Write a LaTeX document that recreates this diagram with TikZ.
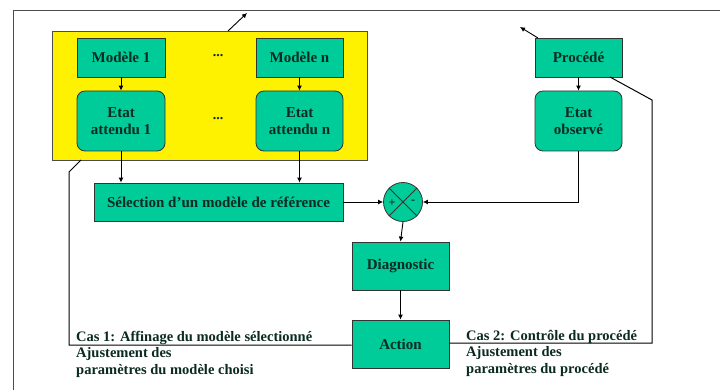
\documentclass[tikz,border=0pt]{standalone}
\usepackage{fontspec}
\setmainfont{Liberation Serif}
\usetikzlibrary{arrows.meta}
\definecolor{boxgreen}{HTML}{00CC99}
\definecolor{txtdark}{HTML}{0A2A22}
\begin{document}
\begin{tikzpicture}[x=1pt,y=-1pt,
  box/.style={draw=black!80,line width=0.8pt,fill=boxgreen,inner sep=0pt,font=\bfseries\fontsize{15}{17}\selectfont,text=txtdark,align=center},
  rbox/.style={box,rounded corners=8pt},
  arr/.style={-{Latex[length=5pt,width=5pt]},line width=0.9pt},
  ln/.style={line width=1pt},
  lbl/.style={font=\bfseries\fontsize{14.5}{16.3}\selectfont,text=txtdark,align=left,inner sep=0pt,anchor=north west}]
\useasboundingbox (0,0) rectangle (720,390);
\fill[white] (0,0) rectangle (720,390);
\draw[line width=0.8pt,black!70] (13,390) -- (13,10) -- (720,10);
% yellow region
\node[draw=black!70,line width=0.8pt,fill=yellow,minimum width=315pt,minimum height=129pt,inner sep=0pt,anchor=north west] (yel) at (52,31) {};
\node[box,minimum width=88pt,minimum height=39pt] (m1) at (121,57.5) {Modèle 1};
\node[box,minimum width=87pt,minimum height=39pt] (mn) at (299.5,57.5) {Modèle n};
\node[rbox,minimum width=88pt,minimum height=60pt] (e1) at (121,121) {Etat\\attendu 1};
\node[rbox,minimum width=87pt,minimum height=60pt] (en) at (299.5,121) {Etat\\attendu n};
\node[font=\bfseries\fontsize{14}{16}\selectfont,text=txtdark] (d1) at (218,56) {...};
\node[font=\bfseries\fontsize{14}{16}\selectfont,text=txtdark] (d2) at (218,119) {...};
\node[box,minimum width=249pt,minimum height=38pt] (sel) at (218.5,202) {Sélection d’un modèle de référence};
% right column
\node[box,minimum width=87pt,minimum height=39pt] (proc) at (578.5,57.5) {Procédé};
\node[rbox,minimum width=87pt,minimum height=60pt] (eo) at (578.5,121) {Etat\\observé};
% comparator
\node[circle,draw=black!80,line width=0.8pt,fill=boxgreen,minimum size=39pt,inner sep=0pt] (cmp) at (403,202) {};
\draw[line width=0.8pt,black!80] (cmp.north west) -- (cmp.south east) (cmp.north east) -- (cmp.south west);
\node[font=\bfseries\fontsize{12}{12}\selectfont,text=txtdark,inner sep=0pt] (plus) at (392,203) {+};
\node[font=\bfseries\fontsize{12}{12}\selectfont,text=txtdark,inner sep=0pt] (minus) at (413,202) {-};
\node[box,minimum width=97pt,minimum height=48pt] (diag) at (400.5,266) {Diagnostic};
\node[box,minimum width=97pt,minimum height=48pt] (act) at (400.5,344) {Action};
% arrows
\draw[arr] (m1) -- (e1);
\draw[arr] (mn) -- (en);
\draw[arr] (proc) -- (eo);
\draw[arr] (e1.south) -- (sel.north -| e1.south);
\draw[arr] (en.south) -- (sel.north -| en.south);
\draw[arr] (sel.east) -- (cmp.west);
\draw[arr] (eo.south) |- (cmp.east);
\draw[arr] (cmp.south) -- (diag.north);
\draw[arr] (diag) -- (act);
\coordinate (yup) at (247,13);
\coordinate (pup) at (520,27);
\draw[arr] (228,31) -- (yup);
\draw[arr] (538,38) -- (pup);
% feedback lines
\coordinate (lk) at (69,172);
\coordinate (rk) at (652,100);
\draw[ln] (81,160) -- (lk) -- (69,345) -- (act.west |- 0,345);
\draw[ln] (610,77) -- (rk) -- (652,343) -- (act.east |- 0,343);
% labels
\node[lbl] (c1) at (76,331) {Cas 1: Affinage du modèle sélectionné\\Ajustement des\\paramètres du modèle choisi};
\node[lbl] (c2) at (466,330) {Cas 2: Contrôle du procédé\\Ajustement des\\paramètres du procédé};
\end{tikzpicture}
\end{document}
